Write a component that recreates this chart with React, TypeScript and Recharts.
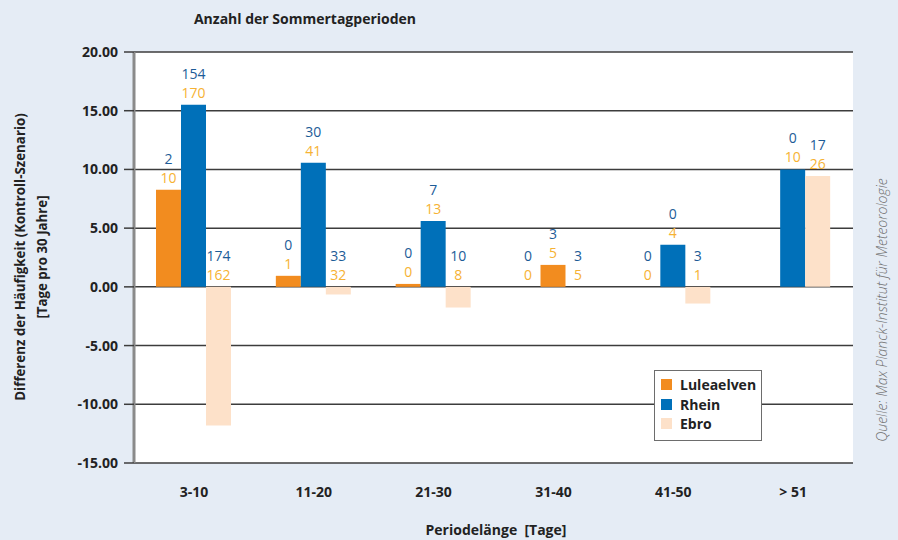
import React from 'react';
import { BarChart, Bar, XAxis, YAxis, CartesianGrid, LabelList, Cell, Legend } from 'recharts';

const categories = ['3-10', '11-20', '21-30', '31-40', '41-50', '> 51'];
const luleaelven: (number | null)[] = [8.26, 0.94, 0.25, 0, 0, null];
const rhein: (number | null)[] = [15.5, 10.56, 5.6, 1.87, 3.58, 10.0];
const ebro: (number | null)[] = [-11.8, -0.65, -1.76, 0, -1.42, 9.45];

const lulTop: (number | null)[] = [2, 0, 0, 0, 0, null];
const lulBottom: (number | null)[] = [10, 1, 0, 0, 0, null];
const rheinTop: (number | null)[] = [154, 30, 7, 3, 0, 0];
const rheinBottom: (number | null)[] = [170, 41, 13, 5, 4, 10];
const ebroTop: (number | null)[] = [174, 33, 10, 3, 3, 17];
const ebroBottom: (number | null)[] = [162, 32, 8, 5, 1, 26];

const yTicks = [-15, -10, -5, 0, 5, 10, 15, 20];

const ORANGE = '#f28c1f';
const BLUE = '#0070b9';
const PEACH = '#fde1c9';
const LABEL_BLUE = '#1d5c97';
const LABEL_ORANGE = '#f6b233';
const BG = '#e5ecf5';
const FONT = '"Open Sans", "Noto Sans", sans-serif';

const rheinColors = categories.map((c) => (c === '31-40' ? ORANGE : BLUE));

const data = categories.map((c, i) => ({
  cat: c,
  lul: luleaelven[i],
  rhein: rhein[i],
  ebro: ebro[i],
}));

// keep zero-valued bars as (invisible) entries so their labels are still placed
const keepZero = (value: any) => (value === 0 ? 0.01 : 0);

const makeLabel = (tops: (number | null)[], bottoms: (number | null)[]) => (props: any) => {
  const { x, y, width, height, index } = props;
  if (index == null || tops[index] == null) return null;
  const yy = Number(y);
  const hh = Number(height) || 0;
  const top = Math.min(yy, yy + hh);
  const cx = Number(x) + Number(width) / 2;
  return (
    <g>
      <text x={cx} y={top - 26} textAnchor="middle" fill={LABEL_BLUE} fontSize={14} fontFamily={FONT}>
        {tops[index]}
      </text>
      <text x={cx} y={top - 7} textAnchor="middle" fill={LABEL_ORANGE} fontSize={14} fontFamily={FONT}>
        {bottoms[index]}
      </text>
    </g>
  );
};

const legendItems = [
  { name: 'Luleaelven', color: ORANGE },
  { name: 'Rhein', color: BLUE },
  { name: 'Ebro', color: PEACH },
];

const LegendBox = () => (
  <div
    style={{
      width: 106,
      height: 65,
      background: '#fff',
      border: '1px solid #6d6d6d',
      boxSizing: 'content-box',
      paddingTop: 4,
      fontFamily: FONT,
    }}
  >
    {legendItems.map((it) => (
      <div key={it.name} style={{ display: 'flex', alignItems: 'center', height: 19.5, paddingLeft: 6 }}>
        <div style={{ width: 11, height: 11, background: it.color, marginRight: 8 }} />
        <span style={{ fontWeight: 700, fontSize: 14, color: '#222', lineHeight: '19px' }}>{it.name}</span>
      </div>
    ))}
  </div>
);

export default function App() {
  return (
    <div style={{ position: 'absolute', left: 0, top: 0, width: 898, height: 540, background: BG, fontFamily: FONT }}>
      <BarChart
        width={898}
        height={540}
        data={data}
        margin={{ top: 52, right: 45, bottom: 0, left: 0 }}
        barSize={25}
        barGap={0}
      >
        <CartesianGrid vertical={false} fill="#ffffff" stroke="#3c3c3c" strokeWidth={1.5} yAxisId="l" />
        <XAxis
          dataKey="cat"
          height={77}
          tickSize={0}
          tickMargin={24}
          axisLine={false}
          tickLine={false}
          tick={{ fill: '#222', fontSize: 14, fontWeight: 700, fontFamily: FONT }}
        />
        <YAxis
          yAxisId="l"
          width={134}
          domain={[-15, 20]}
          ticks={yTicks}
          interval={0}
          tickSize={10}
          tickMargin={6}
          tickFormatter={(v: number) => v.toFixed(2)}
          axisLine={{ stroke: '#8a8a8a', strokeWidth: 3 }}
          tickLine={{ stroke: '#3c3c3c', strokeWidth: 1.5 }}
          tick={{ fill: '#222', fontSize: 14, fontWeight: 700, fontFamily: FONT }}
        />
        <YAxis
          yAxisId="r"
          orientation="right"
          width={0}
          domain={[-15, 20]}
          ticks={yTicks}
          tick={false}
          tickLine={false}
          axisLine={{ stroke: '#333', strokeWidth: 2 }}
        />
        <Legend
          layout="vertical"
          align="center"
          verticalAlign="middle"
          wrapperStyle={{ position: 'absolute', left: 654, top: 370, width: 108, height: 69 }}
          content={() => <LegendBox />}
        />
        <Bar yAxisId="l" dataKey="lul" name="Luleaelven" fill={ORANGE} minPointSize={keepZero} isAnimationActive={false}>
          <LabelList dataKey="lul" content={makeLabel(lulTop, lulBottom)} />
        </Bar>
        <Bar yAxisId="l" dataKey="rhein" name="Rhein" fill={BLUE} minPointSize={keepZero} isAnimationActive={false}>
          {rheinColors.map((c, i) => (
            <Cell key={i} fill={c} />
          ))}
          <LabelList dataKey="rhein" content={makeLabel(rheinTop, rheinBottom)} />
        </Bar>
        <Bar yAxisId="l" dataKey="ebro" name="Ebro" fill={PEACH} minPointSize={keepZero} isAnimationActive={false}>
          <LabelList dataKey="ebro" content={makeLabel(ebroTop, ebroBottom)} />
        </Bar>
      </BarChart>
      <svg
        width={898}
        height={540}
        style={{ position: 'absolute', left: 0, top: 0, pointerEvents: 'none' }}
      >
        <text x={305} y={24} textAnchor="middle" fontSize={14} fontWeight={700} fill="#222" fontFamily={FONT}>
          Anzahl der Sommertagperioden
        </text>
        <text x={496} y={535} textAnchor="middle" fontSize={14} fontWeight={700} fill="#222" fontFamily={FONT} xmlSpace="preserve">
          Periodelänge  [Tage]
        </text>
        <g transform="translate(25 257) rotate(-90)">
          <text x={0} y={0} textAnchor="middle" fontSize={13.3} fontWeight={700} fill="#222" fontFamily={FONT}>
            Differenz der Häufigkeit (Kontroll-Szenario)
          </text>
        </g>
        <g transform="translate(47 257) rotate(-90)">
          <text x={0} y={0} textAnchor="middle" fontSize={13.3} fontWeight={700} fill="#222" fontFamily={FONT}>
            [Tage pro 30 Jahre]
          </text>
        </g>
        <g transform="translate(887 310) rotate(-90)">
          <text x={0} y={0} textAnchor="middle" fontSize={14} fontStyle="italic" fontWeight={300} fill="#6f6f6f" fontFamily={FONT}>
            Quelle: Max Planck-Institut für Meteorologie
          </text>
        </g>
      </svg>
    </div>
  );
}
